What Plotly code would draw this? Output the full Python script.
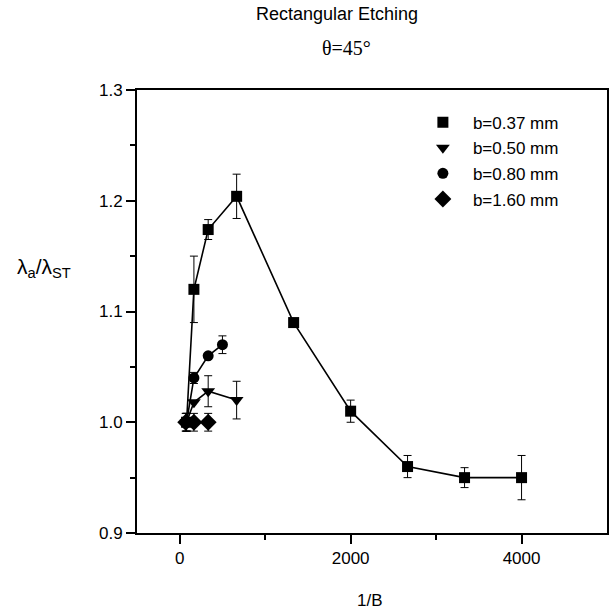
import plotly.graph_objects as go

# b = 0.37 mm (squares)
x_s = [80, 166, 333, 666, 1333, 2000, 2666, 3333, 4000]
y_s = [1.00, 1.12, 1.174, 1.204, 1.09, 1.01, 0.96, 0.95, 0.95]
e_s = [0.008, 0.03, 0.009, 0.02, 0.0, 0.01, 0.01, 0.009, 0.02]

# b = 0.50 mm (down triangles)
x_t = [80, 166, 333, 666]
y_t = [1.00, 1.018, 1.028, 1.02]
e_t = [0.008, 0.0, 0.014, 0.017]

# b = 0.80 mm (circles)
x_c = [80, 166, 333, 500]
y_c = [1.00, 1.04, 1.06, 1.07]
e_c = [0.008, 0.005, 0.0, 0.008]

# b = 1.60 mm (diamonds)
x_d = [70, 166, 333]
y_d = [1.00, 1.00, 1.00]
e_d = [0.008, 0.008, 0.008]

names = ["b=0.37 mm", "b=0.50 mm", "b=0.80 mm", "b=1.60 mm"]
symbols = ["square", "triangle-down", "circle", "diamond"]
sizes = [11, 12, 11, 13]
series = [(x_s, y_s, e_s), (x_t, y_t, e_t), (x_c, y_c, e_c), (x_d, y_d, e_d)]

fig = go.Figure()
for (xs, ys, es), sym, sz in zip(series, symbols, sizes):
    fig.add_trace(go.Scatter(
        x=xs, y=ys, mode="lines+markers", showlegend=False,
        line=dict(color="black", width=1.6),
        marker=dict(symbol=sym, size=sz, color="black"),
        error_y=dict(type="data", array=es, visible=True, color="black",
                     thickness=1, width=4),
    ))
for i, (name, sym, sz) in enumerate(zip(names, symbols, sizes)):
    fig.add_trace(go.Scatter(
        x=[None], y=[None], mode="markers", name=name,
        legendgroup=str(i),
        marker=dict(symbol=sym, size=sz, color="black"),
    ))

font = "Liberation Sans, Arial, sans-serif"
fig.update_layout(
    width=610, height=610,
    margin=dict(l=137, r=1, t=90, b=77),
    paper_bgcolor="white", plot_bgcolor="white",
    font=dict(family=font, size=17, color="black"),
    showlegend=True,
    legend=dict(x=0.587, y=0.967, xanchor="left", yanchor="top",
                bgcolor="rgba(0,0,0,0)", tracegroupgap=0.5, itemwidth=50,
                font=dict(size=17, family=font)),
    xaxis=dict(range=[-500, 5000], tickvals=[0, 2000, 4000],
               ticks="outside", ticklen=9, tickwidth=2, tickcolor="black",
               minor=dict(tickvals=[1000, 3000], ticks="outside", ticklen=5,
                          tickwidth=2, tickcolor="black"),
               showline=True, linecolor="black", linewidth=2, mirror=True,
               showgrid=False, zeroline=False,
               tickfont=dict(size=17)),
    yaxis=dict(range=[0.9, 1.3], tickvals=[0.9, 1.0, 1.1, 1.2, 1.3],
               ticktext=["0.9", "1.0", "1.1", "1.2", "1.3"],
               ticks="outside", ticklen=9, tickwidth=2, tickcolor="black",
               minor=dict(tickvals=[0.95, 1.05, 1.15, 1.25], ticks="outside",
                          ticklen=5, tickwidth=2, tickcolor="black"),
               showline=True, linecolor="black", linewidth=2, mirror=True,
               showgrid=False, zeroline=False,
               tickfont=dict(size=17)),
    annotations=[
        dict(text="Rectangular Etching", xref="paper", yref="paper",
             x=(338 - 137) / 472, y=1 + (90 - 14) / 443, showarrow=False,
             xanchor="center", yanchor="middle", font=dict(size=18, family=font)),
        dict(text="θ=45°", xref="paper", yref="paper",
             x=(347 - 137) / 472, y=1 + (90 - 48) / 443, showarrow=False,
             xanchor="center", yanchor="middle",
             font=dict(size=20, family="Liberation Serif, Times New Roman, serif")),
        dict(text="λ<sub>a</sub>/λ<sub>ST</sub>", xref="paper", yref="paper",
             x=(14 - 137) / 472, y=1 - (268 - 90) / 443, showarrow=False,
             xanchor="left", yanchor="middle", font=dict(size=21, family=font)),
        dict(text="1/B", xref="paper", yref="paper",
             x=(371 - 137) / 472, y=-(600 - 533) / 443, showarrow=False,
             xanchor="center", yanchor="middle", font=dict(size=17, family=font)),
    ],
)

fig.write_html(
    "out.html",
    config={"displayModeBar": False},
    post_script="document.body.style.margin='0';document.body.style.overflow='hidden';",
)
